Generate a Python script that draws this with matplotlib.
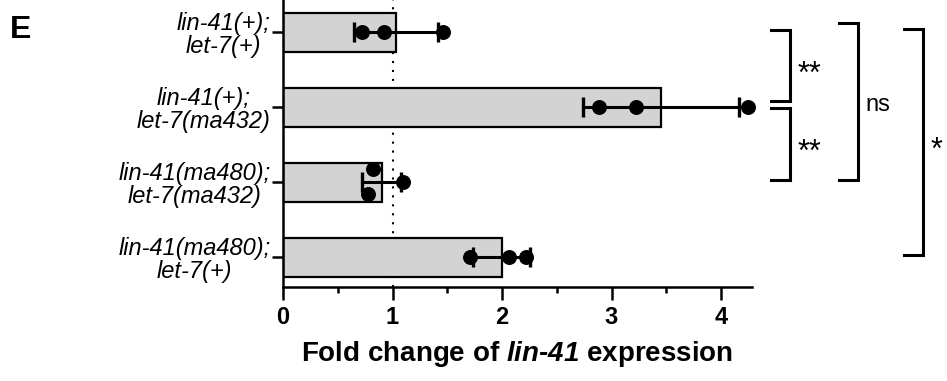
"""Fold change of lin-41 expression, panel E (horizontal bars with replicate points)."""

import matplotlib
matplotlib.use("Agg")
import matplotlib.pyplot as plt
from matplotlib import font_manager
import numpy as np

plt.rcParams["font.family"] = ["Liberation Sans", "DejaVu Sans"]
plt.rcParams["mathtext.fontset"] = "custom"
plt.rcParams["mathtext.it"] = "Liberation Sans:italic:bold"
plt.rcParams["mathtext.rm"] = "Liberation Sans:italic:bold"

# data, top bar first
labels = [
    "lin-41(+);\nlet-7(+)",
    "lin-41(+);\nlet-7(ma432)",
    "lin-41(ma480);\nlet-7(ma432)",
    "lin-41(ma480);\nlet-7(+)",
]
replicates = [
    [0.72, 0.92, 1.46],
    [2.89, 3.22, 4.25],
    [0.82, 0.78, 1.10],
    [1.71, 2.06, 2.22],
]
# vertical spread of overlapping dots (fraction of a row)
dot_jitter = [
    [0.0, 0.0, 0.0],
    [0.0, 0.0, 0.0],
    [0.18, -0.16, 0.0],
    [0.0, 0.0, 0.0],
]
x_ticks = [0, 1, 2, 3, 4]

# significance brackets: (y top, y bottom, x of bracket, label)
brackets = [
    (3.03, 2.08, 4.46, "**"),
    (1.99, 1.03, 4.46, "**"),
    (3.12, 1.03, 5.08, "ns"),
    (3.04, 0.03, 5.67, "*"),
]

means = [np.mean(r) for r in replicates]
sds = [np.std(r, ddof=1) for r in replicates]
ypos = np.arange(len(labels))[::-1]

names = {f.name for f in font_manager.fontManager.ttflist}
tick_font = "Liberation Sans Narrow" if "Liberation Sans Narrow" in names else "Liberation Sans"

fig = plt.figure(figsize=(9.47, 3.81), dpi=100)
ax = fig.add_axes([283 / 947, 94 / 381, 468.7 / 947, 287 / 381])

ax.axvline(1, color="black", lw=1.5, linestyle=(0, (1, 3.3)), zorder=1)
ax.barh(ypos, means, height=0.52, color="#d3d3d3", edgecolor="black", linewidth=1.6, zorder=2)
ax.errorbar(means, ypos, xerr=sds, fmt="none", ecolor="black", elinewidth=2.2,
            capsize=7, capthick=2.4, zorder=3)
for y, vals, jit in zip(ypos, replicates, dot_jitter):
    ax.scatter(vals, y + np.array(jit), s=95, color="black", zorder=4, clip_on=False)

ax.set_xlim(0, 4.28)
ax.set_ylim(-0.4, 3.43)
ax.set_yticks(ypos)
ax.set_yticklabels(labels, fontsize=17, style="italic", multialignment="center", linespacing=1.0)
ax.set_xticks(x_ticks)
ax.set_xticklabels([str(t) for t in x_ticks], fontsize=17, fontweight="bold", family=tick_font)
ax.set_xticks(np.arange(0.5, 4.5, 1), minor=True)

for side in ["top", "right"]:
    ax.spines[side].set_visible(False)
for side in ["left", "bottom"]:
    ax.spines[side].set_linewidth(1.8)
ax.tick_params(axis="x", which="major", length=9, width=1.8, pad=5)
ax.tick_params(axis="x", which="minor", length=4.5, width=1.8)
ax.tick_params(axis="y", length=8, width=1.8, pad=1)

ax.set_xlabel("Fold change of $\\mathrm{lin}$-$\\mathrm{41}$ expression", fontsize=20,
              fontweight="bold", labelpad=7)

arm = 0.17
for y0, y1, x, text in brackets:
    ax.plot([x, x + arm, x + arm, x], [y0, y0, y1, y1], color="black", lw=2.2,
            clip_on=False, solid_joinstyle="miter")
    size = 22 if text.startswith("*") else 17
    ax.text(x + arm + 0.07, (y0 + y1) / 2 - (0.12 if text.startswith("*") else 0.05), text,
            fontsize=size, va="center", ha="left")

fig.text(10 / 947, 1 - 30 / 381, "E", fontsize=23, fontweight="bold", va="center", ha="left")

fig.savefig("out.png", dpi=100)
